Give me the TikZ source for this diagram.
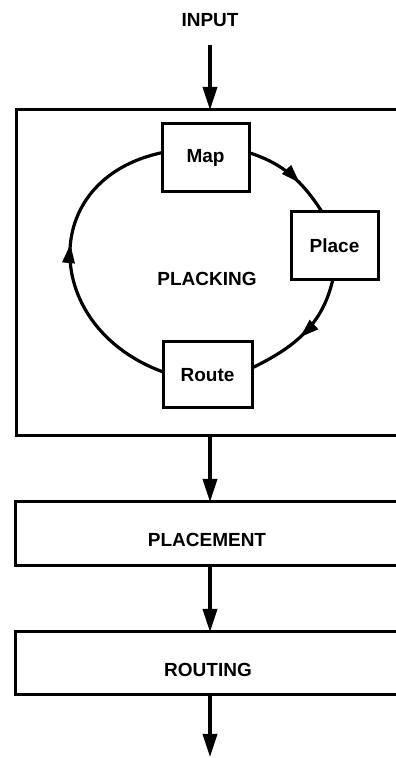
\documentclass[tikz,border=0pt]{standalone}
\usepackage{fontspec}
\setmainfont{Liberation Sans}
\usetikzlibrary{arrows.meta,decorations.markings}

\tikzset{
  every node/.style={font=\bfseries\fontsize{19}{22}\selectfont, inner sep=0pt, outer sep=0pt},
  stage/.style={draw, line width=3pt, minimum width=420pt, anchor=north west},
  task/.style={draw, line width=3pt, minimum width=87pt, minimum height=68pt},
  flow/.style={line width=3.4pt, -{Triangle[length=23pt,width=14pt]}},
  loop/.style={line width=3.2pt},
  midarrow/.style={postaction=decorate, decoration={markings,
    mark=at position #1 with {\arrow{Triangle[length=19pt,width=12pt]}}}}
}

\begin{document}
\begin{tikzpicture}[x=1pt,y=1pt]
  \useasboundingbox (0,0) rectangle (396,758);
  \clip (0,0) rectangle (396,758);

  % input label
  \node (input) at (210,738) {INPUT};

  % outer stage boxes (running off the right edge)
  \node[stage, minimum height=326pt] (plk) at (16,648) {};
  \node[stage, minimum height=64pt] (placement) at (15,256) {};
  \node[stage, minimum height=63pt] (routing) at (15,126) {};
  \coordinate (out) at (210,1);

  % stage labels
  \node (plklabel) at (207,479) {PLACKING};
  \node (placementlabel) at (207,218) {PLACEMENT};
  \node (routinglabel) at (208,88) {ROUTING};

  % the inner loop
  \node[task] (map) at (205.5,600) {Map};
  \node[task] (place) at (334.5,512) {Place};
  \node[task, minimum width=89pt, minimum height=66pt] (route) at (207.5,383) {Route};

  \draw[loop, midarrow=0.62] (map.7) to[out=-18, in=123] (place.110);
  \draw[loop, midarrow=0.54] (place.267) to[out=-103, in=26] (route.9);
  \draw[loop, midarrow=0.55] (route.176) to[out=160, in=192, looseness=1.5] (map.173);

  % main flow
  \draw[flow, shorten <=18pt] (input.south) -- (input |- plk.north);
  \draw[flow] (input |- plk.south) -- (input |- placement.north);
  \draw[flow] (input |- placement.south) -- (input |- routing.north);
  \draw[flow] (input |- routing.south) -- (out);
\end{tikzpicture}
\end{document}
